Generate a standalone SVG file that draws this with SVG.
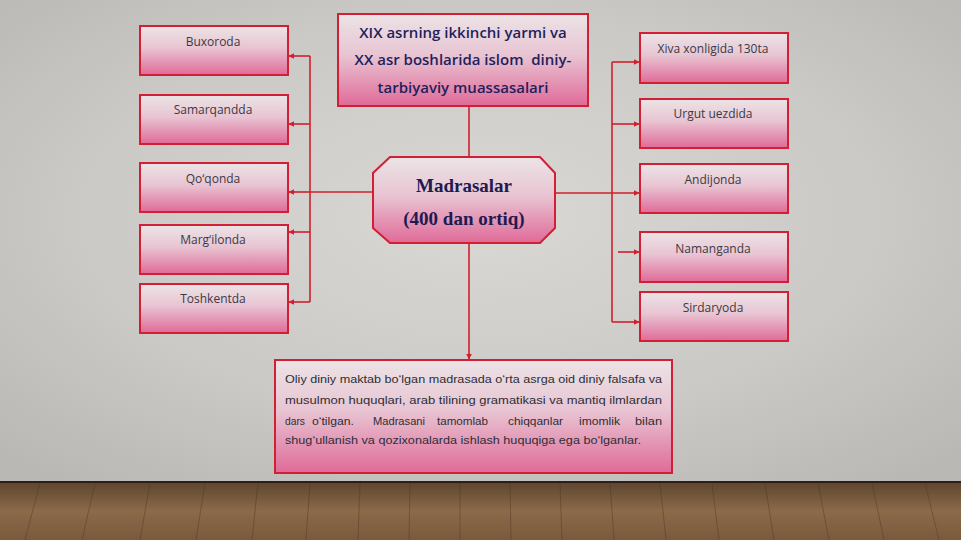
<svg xmlns="http://www.w3.org/2000/svg" width="961" height="540" viewBox="0 0 961 540">
<defs>
<radialGradient id="wall" cx="0.5" cy="0.45" r="0.7">
<stop offset="0" stop-color="#d9d8d4"/>
<stop offset="0.6" stop-color="#cac9c5"/>
<stop offset="1" stop-color="#b9b8b4"/>
</radialGradient>
<linearGradient id="pink" x1="0" y1="0" x2="0" y2="1">
<stop offset="0" stop-color="#ece4e6"/>
<stop offset="0.45" stop-color="#e8c4d2"/>
<stop offset="1" stop-color="#e06a98"/>
</linearGradient>
<linearGradient id="floor" x1="0" y1="0" x2="0" y2="1">
<stop offset="0" stop-color="#5f4530"/>
<stop offset="0.5" stop-color="#8a6a48"/>
<stop offset="1" stop-color="#7a5a3c"/>
</linearGradient>
<marker id="arr" viewBox="0 0 10 10" refX="9" refY="5" markerWidth="6" markerHeight="6" orient="auto-start-reverse" markerUnits="userSpaceOnUse">
<path d="M0,0 L10,5 L0,10 z" fill="#d0202e"/>
</marker>
<style>
.box{fill:url(#pink);stroke:#d21f35;stroke-width:2}
.lbl{font-family:"Open Sans","Liberation Sans",sans-serif;font-size:12px;fill:#3a3a44;text-anchor:middle}
.ttl{font-family:"Open Sans","Liberation Sans",sans-serif;font-size:15px;font-weight:600;fill:#1f1f5e;text-anchor:middle}
.oct{font-family:"Liberation Serif",serif;font-size:19px;font-weight:bold;fill:#1e1a52;text-anchor:middle}
.body{font-family:"Liberation Sans Narrow","Liberation Sans",sans-serif;font-size:11.5px;fill:#2e2e36}
.ln{stroke:#d0202e;stroke-width:1.6;fill:none}
.plank{stroke:#4a3424;stroke-width:1;opacity:0.4}
</style>
</defs>
<rect x="0" y="0" width="961" height="482" fill="url(#wall)"/>
<rect x="0" y="482" width="961" height="58" fill="url(#floor)"/>
<line x1="0" y1="482" x2="961" y2="482" stroke="#2a2018" stroke-width="2"/>
<g class="plank">
<line x1="40" y1="483" x2="25" y2="540"/><line x1="95" y1="483" x2="82" y2="540"/><line x1="150" y1="483" x2="140" y2="540"/>
<line x1="205" y1="483" x2="196" y2="540"/><line x1="258" y1="483" x2="252" y2="540"/><line x1="310" y1="483" x2="306" y2="540"/>
<line x1="360" y1="483" x2="358" y2="540"/><line x1="410" y1="483" x2="409" y2="540"/><line x1="460" y1="483" x2="460" y2="540"/>
<line x1="510" y1="483" x2="511" y2="540"/><line x1="560" y1="483" x2="562" y2="540"/><line x1="610" y1="483" x2="614" y2="540"/>
<line x1="660" y1="483" x2="666" y2="540"/><line x1="712" y1="483" x2="719" y2="540"/><line x1="765" y1="483" x2="774" y2="540"/>
<line x1="818" y1="483" x2="829" y2="540"/><line x1="872" y1="483" x2="884" y2="540"/><line x1="925" y1="483" x2="939" y2="540"/>
</g>

<g id="connectors">
<line class="ln" x1="469" y1="106" x2="469" y2="157"/>
<line class="ln" x1="469" y1="243" x2="469" y2="359" marker-end="url(#arr)"/>
<line class="ln" x1="373" y1="192" x2="310" y2="192"/>
<line class="ln" x1="310" y1="56" x2="310" y2="302"/>
<line class="ln" x1="310" y1="56" x2="289" y2="56" marker-end="url(#arr)"/>
<line class="ln" x1="310" y1="124" x2="289" y2="124" marker-end="url(#arr)"/>
<line class="ln" x1="310" y1="192" x2="289" y2="192" marker-end="url(#arr)"/>
<line class="ln" x1="310" y1="232" x2="289" y2="232" marker-end="url(#arr)"/>
<line class="ln" x1="310" y1="302" x2="289" y2="302" marker-end="url(#arr)"/>
<line class="ln" x1="555" y1="193" x2="639" y2="193" marker-end="url(#arr)"/>
<line class="ln" x1="612" y1="62" x2="612" y2="322"/>
<line class="ln" x1="612" y1="62" x2="639" y2="62" marker-end="url(#arr)"/>
<line class="ln" x1="612" y1="124" x2="639" y2="124" marker-end="url(#arr)"/>
<line class="ln" x1="618" y1="252" x2="639" y2="252" marker-end="url(#arr)"/>
<line class="ln" x1="612" y1="322" x2="639" y2="322" marker-end="url(#arr)"/>
</g>

<g id="title">
<rect class="box" x="338" y="14" width="250" height="92"/>
<text class="ttl" x="463" y="38">XIX asrning ikkinchi yarmi va</text>
<text class="ttl" x="463" y="65" style="white-space:pre">XX asr boshlarida islom  diniy-</text>
<text class="ttl" x="463" y="93">tarbiyaviy muassasalari</text>
</g>

<g id="madrasalar">
<polygon class="box" points="390,157 540,157 555,173 555,228 540,243 390,243 373,228 373,173"/>
<text class="oct" x="464" y="192">Madrasalar</text>
<text class="oct" x="464" y="225">(400 dan ortiq)</text>
</g>

<g id="buxoroda"><rect class="box" x="140" y="26" width="148" height="49"/><text class="lbl" x="213" y="46">Buxoroda</text></g>
<g id="samarqandda"><rect class="box" x="140" y="95" width="148" height="49"/><text class="lbl" x="213" y="114">Samarqandda</text></g>
<g id="qoqonda"><rect class="box" x="140" y="163" width="148" height="49"/><text class="lbl" x="213" y="183">Qo‘qonda</text></g>
<g id="margilonda"><rect class="box" x="140" y="225" width="148" height="49"/><text class="lbl" x="213" y="244">Marg‘ilonda</text></g>
<g id="toshkentda"><rect class="box" x="140" y="284" width="148" height="49"/><text class="lbl" x="213" y="303">Toshkentda</text></g>

<g id="xiva"><rect class="box" x="640" y="33" width="148" height="50"/><text class="lbl" x="713" y="53">Xiva xonligida 130ta</text></g>
<g id="urgut"><rect class="box" x="640" y="99" width="148" height="49"/><text class="lbl" x="713" y="118">Urgut uezdida</text></g>
<g id="andijonda"><rect class="box" x="640" y="164" width="148" height="49"/><text class="lbl" x="713" y="184">Andijonda</text></g>
<g id="namanganda"><rect class="box" x="640" y="232" width="148" height="50"/><text class="lbl" x="713" y="253">Namanganda</text></g>
<g id="sirdaryoda"><rect class="box" x="640" y="292" width="148" height="49"/><text class="lbl" x="713" y="312">Sirdaryoda</text></g>

<g id="info">
<rect class="box" x="275" y="360" width="397" height="113"/>
<text class="body" x="285" y="383" textLength="377" lengthAdjust="spacingAndGlyphs">Oliy diniy maktab bo‘lgan madrasada o‘rta asrga oid diniy falsafa va</text>
<text class="body" x="285" y="404" textLength="377" lengthAdjust="spacingAndGlyphs">musulmon huquqlari, arab tilining gramatikasi va mantiq ilmlardan</text>
<text class="body" x="285" y="425" textLength="20" lengthAdjust="spacingAndGlyphs">dars</text>
<text class="body" x="312" y="425" textLength="42" lengthAdjust="spacingAndGlyphs">o‘tilgan.</text>
<text class="body" x="373" y="425" textLength="52" lengthAdjust="spacingAndGlyphs">Madrasani</text>
<text class="body" x="437" y="425" textLength="51" lengthAdjust="spacingAndGlyphs">tamomlab</text>
<text class="body" x="508" y="425" textLength="55" lengthAdjust="spacingAndGlyphs">chiqqanlar</text>
<text class="body" x="579" y="425" textLength="41" lengthAdjust="spacingAndGlyphs">imomlik</text>
<text class="body" x="635" y="425" textLength="27" lengthAdjust="spacingAndGlyphs">bilan</text>
<text class="body" x="285" y="444" textLength="356" lengthAdjust="spacingAndGlyphs">shug‘ullanish va qozixonalarda ishlash huquqiga ega bo‘lganlar.</text>
</g>
</svg>
